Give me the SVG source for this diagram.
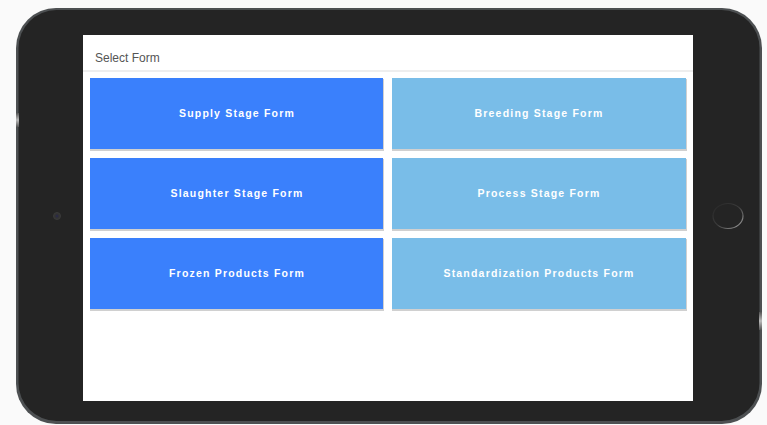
<svg xmlns="http://www.w3.org/2000/svg" width="767" height="425" viewBox="0 0 767 425">
<style>
.btn-text{font-family:"Liberation Sans",Arial,sans-serif;font-size:10.5px;font-weight:bold;fill:#ffffff;letter-spacing:1.2px;text-anchor:middle;dominant-baseline:central}
.dark{fill:#3a80fc}
.light{fill:#79bde8}
.shadow{fill:#d0d0d0}
</style>
<defs>
<linearGradient id="ring" x1="0" y1="0" x2="1" y2="1">
<stop offset="0" stop-color="#262626"/>
<stop offset="0.5" stop-color="#3c3c3c"/>
<stop offset="1" stop-color="#a8a8a8"/>
</linearGradient>
<linearGradient id="sideBtn" x1="0" y1="0" x2="0" y2="1">
<stop offset="0" stop-color="#555"/>
<stop offset="0.5" stop-color="#bbb"/>
<stop offset="1" stop-color="#555"/>
</linearGradient>
</defs>
<rect width="767" height="425" fill="#fafafa"/>
<g id="tablet">
<rect x="16" y="8" width="746" height="416" rx="40" fill="#4d5052"/>
<rect x="18.5" y="10" width="741" height="411" rx="38" fill="#242424"/>
<rect x="16" y="113" width="3" height="14" fill="url(#sideBtn)"/>
<rect x="759" y="312" width="3" height="18" fill="url(#sideBtn)"/>
<circle cx="57" cy="216" r="3.5" fill="#333" stroke="#3a3a3a" stroke-width="1"/>
<circle cx="57" cy="216" r="1.5" fill="#2a2a44"/>
<ellipse cx="728" cy="216" rx="15" ry="12.5" fill="none" stroke="url(#ring)" stroke-width="1.2"/>
</g>
<g id="screen">
<rect x="83" y="35" width="610" height="366" fill="#ffffff"/>
<text x="95" y="62" font-family="Liberation Sans,Arial,sans-serif" font-size="12" fill="#555">Select Form</text>
<line x1="83" y1="71" x2="693" y2="71" stroke="#dddddd" stroke-width="1.2"/>
</g>
<g id="supply">
<rect class="shadow" x="90" y="79" width="294" height="72"/>
<rect class="dark" x="90" y="78" width="293" height="71"/>
<text class="btn-text" x="237" y="113">Supply Stage Form</text>
</g>
<g id="breeding">
<rect class="shadow" x="392" y="79" width="295" height="72"/>
<rect class="light" x="392" y="78" width="294" height="71"/>
<text class="btn-text" x="539" y="113">Breeding Stage Form</text>
</g>
<g id="slaughter">
<rect class="shadow" x="90" y="159" width="294" height="72"/>
<rect class="dark" x="90" y="158" width="293" height="71"/>
<text class="btn-text" x="237" y="193">Slaughter Stage Form</text>
</g>
<g id="process">
<rect class="shadow" x="392" y="159" width="295" height="72"/>
<rect class="light" x="392" y="158" width="294" height="71"/>
<text class="btn-text" x="539" y="193">Process Stage Form</text>
</g>
<g id="frozen">
<rect class="shadow" x="90" y="239" width="294" height="72"/>
<rect class="dark" x="90" y="238" width="293" height="71"/>
<text class="btn-text" x="237" y="273">Frozen Products Form</text>
</g>
<g id="standardization">
<rect class="shadow" x="392" y="239" width="295" height="72"/>
<rect class="light" x="392" y="238" width="294" height="71"/>
<text class="btn-text" x="539" y="273">Standardization Products Form</text>
</g>
<g id="connectors"></g>
</svg>
